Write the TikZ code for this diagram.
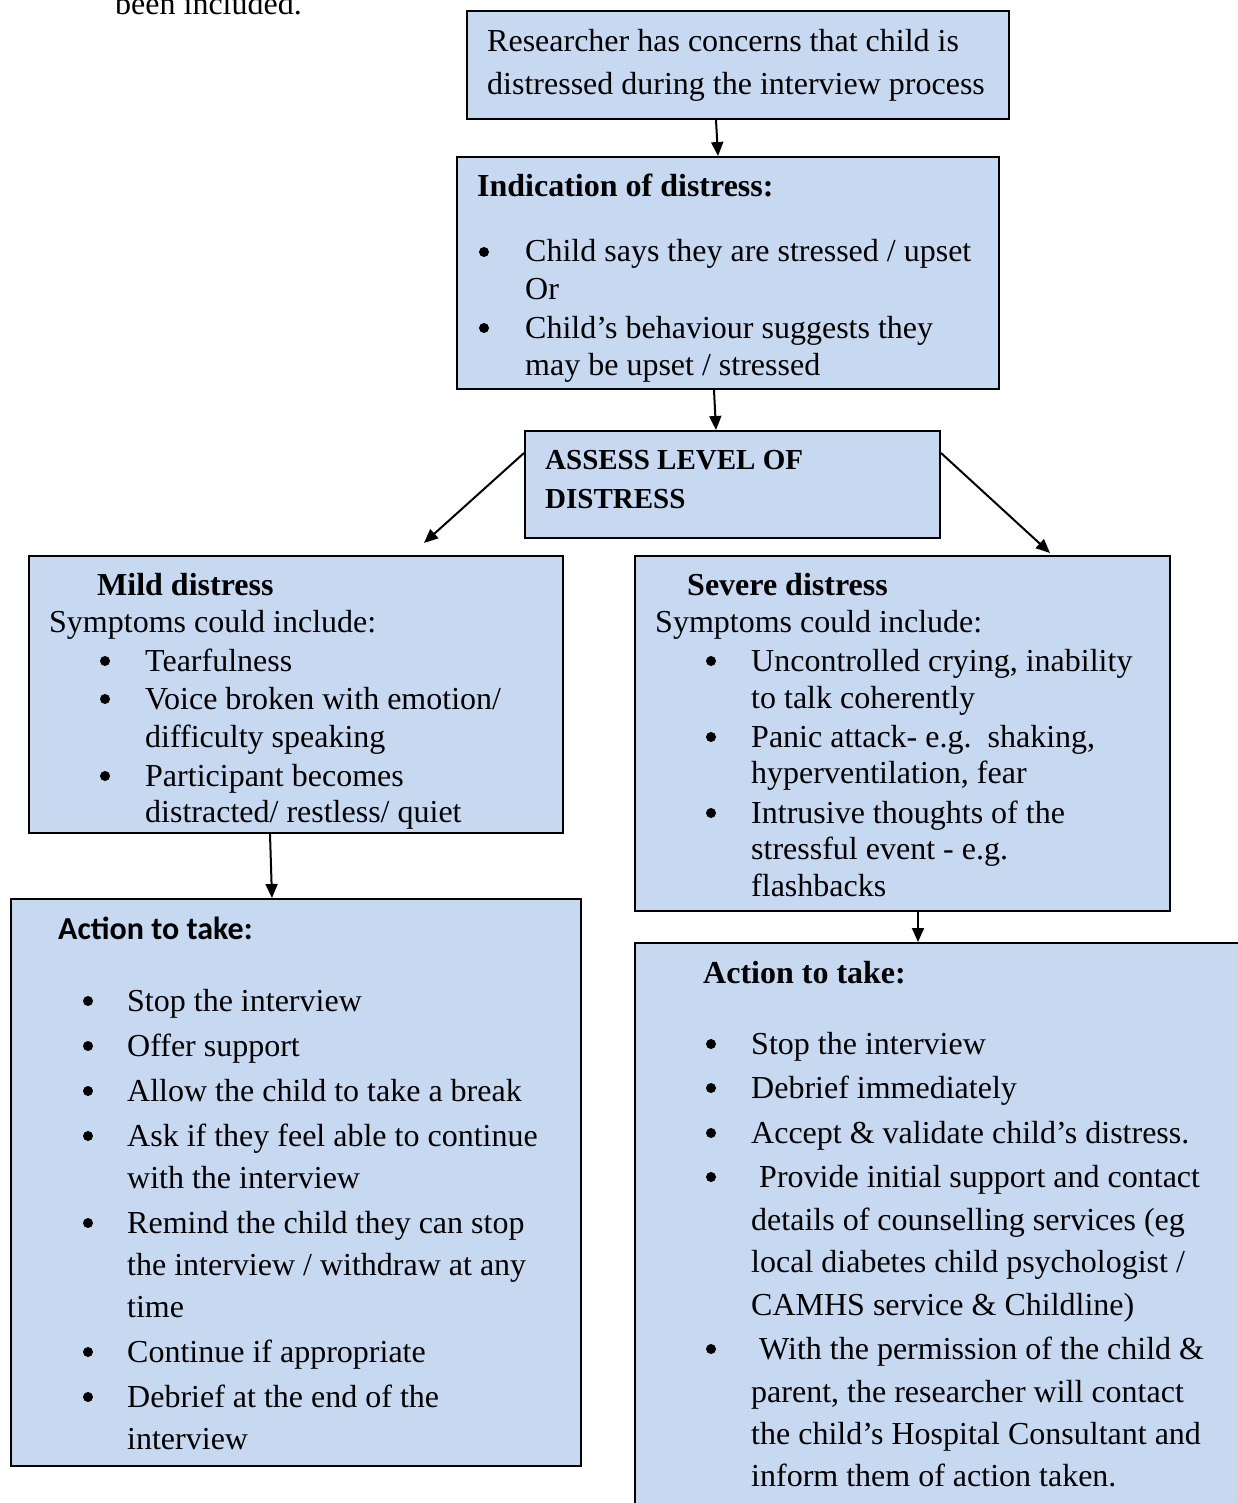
\documentclass[tikz,border=0pt]{standalone}
\usepackage{fontspec}
\setmainfont{Liberation Serif}
\newfontfamily\calfont{Carlito}
\usetikzlibrary{arrows.meta,calc}
\definecolor{boxblue}{RGB}{198,217,241}
\newcommand\Ln[4]{\node[txt] (#1) at (#2,#3) {#4};}
\newcommand\Bu[3]{\node[bul] (#1) at (#2,#3) {};}
\begin{document}
\begin{tikzpicture}[x=1pt,y=-1pt,
 box/.style={draw=black,line width=2pt,fill=boxblue,rectangle,inner sep=0pt,anchor=north west},
 txt/.style={anchor=base west,inner sep=0pt,font=\fontsize{32}{38}\selectfont},
 btxt/.style={txt,font=\fontsize{32}{38}\selectfont\bfseries},
 bul/.style={circle,fill=black,inner sep=0pt,minimum size=10pt},
 arr/.style={line width=2pt,-{Triangle[length=14pt,width=12pt]}}]
\useasboundingbox (0,0) rectangle (1238,1503);
\clip (0,0) rectangle (1238,1503);

\node[txt] (prev) at (115,15) {been included.};

% boxes
\node[box,minimum width=542pt,minimum height=108pt] (top) at (466,10) {};
\node[box,minimum width=542pt,minimum height=232pt] (ind) at (456,156) {};
\node[box,minimum width=415pt,minimum height=107pt] (ass) at (524,430) {};
\node[box,minimum width=534pt,minimum height=277pt] (mild) at (28,555) {};
\node[box,minimum width=535pt,minimum height=355pt] (sev) at (634,555) {};
\node[box,minimum width=570pt,minimum height=567pt] (actl) at (10,898) {};
\node[box,minimum width=604pt,minimum height=575pt] (actr) at (634,942) {};

% arrows
\draw[arr] ($(top.south west)+(250,0)$) -- ($(ind.north west)+(262,0)$);
\draw[arr] ($(ind.south west)+(258,0)$) -- ($(ass.north west)+(192,0)$);
\draw[arr] ($(ass.north west)+(0,23)$) -- ($(mild.north west)+(396,-12)$);
\draw[arr] ($(ass.north east)+(0,23)$) -- ($(sev.north west)+(416,-2)$);
\draw[arr] ($(mild.south west)+(242,0)$) -- ($(actl.north west)+(262,0)$);
\draw[arr] ($(sev.south west)+(284,0)$) -- ($(actr.north west)+(284,0)$);

% top box
\Ln{t1}{487}{52}{Researcher has concerns that child is}
\Ln{t2}{487}{95}{distressed during the interview process}

% indication
\begin{scope}
\clip (ind.north west) rectangle (ind.south east);
\node[btxt] (i0) at (477,197) {Indication of distress:};
\Bu{ib1}{484}{252}\Bu{ib2}{484}{328}
\Ln{i1}{525}{262}{Child says they are stressed / upset}
\Ln{i2}{525}{299}{Or}
\Ln{i3}{525}{338}{Child’s behaviour suggests they}
\Ln{i4}{525}{375}{may be upset / stressed}
\end{scope}

% assess
\node[btxt,font=\fontsize{29}{36}\selectfont\bfseries] (a1) at (545,469) {ASSESS LEVEL OF};
\node[btxt,font=\fontsize{29}{36}\selectfont\bfseries] (a2) at (545,508) {DISTRESS};

% mild
\begin{scope}
\clip (mild.north west) rectangle (mild.south east);
\node[btxt] (m0) at (97,595) {Mild distress};
\Ln{m1}{49}{632}{Symptoms could include:}
\Bu{mb1}{105}{661}\Bu{mb2}{105}{699}\Bu{mb3}{105}{776}
\Ln{m2}{145}{671}{Tearfulness}
\Ln{m3}{145}{709}{Voice broken with emotion/}
\Ln{m4}{145}{747}{difficulty speaking}
\Ln{m5}{145}{786}{Participant becomes}
\Ln{m6}{145}{822}{distracted/ restless/ quiet}
\end{scope}

% severe
\node[btxt] (s0) at (687,595) {Severe distress};
\Ln{s1}{655}{632}{Symptoms could include:}
\Bu{sb1}{711}{661}\Bu{sb2}{711}{737}\Bu{sb3}{711}{813}
\Ln{s2}{751}{671}{Uncontrolled crying, inability}
\Ln{s3}{751}{708}{to talk coherently}
\Ln{s4}{751}{747}{Panic attack- e.g.\ \ shaking,}
\Ln{s5}{751}{783}{hyperventilation, fear}
\Ln{s6}{751}{823}{Intrusive thoughts of the}
\Ln{s7}{751}{859}{stressful event - e.g.}
\Ln{s8}{751}{896}{flashbacks}

% action left
\node[txt,font=\fontsize{32}{38}\calfont\bfseries] (l0) at (58,939) {Action to take:};
\Bu{lb1}{88}{1001}\Bu{lb2}{88}{1046}\Bu{lb3}{88}{1091}\Bu{lb4}{88}{1136}
\Bu{lb5}{88}{1223}\Bu{lb6}{88}{1352}\Bu{lb7}{88}{1397}
\Ln{l1}{127}{1011}{Stop the interview}
\Ln{l2}{127}{1056}{Offer support}
\Ln{l3}{127}{1101}{Allow the child to take a break}
\Ln{l4}{127}{1146}{Ask if they feel able to continue}
\Ln{l5}{127}{1188}{with the interview}
\Ln{l6}{127}{1233}{Remind the child they can stop}
\Ln{l7}{127}{1275}{the interview / withdraw at any}
\Ln{l8}{127}{1317}{time}
\Ln{l9}{127}{1362}{Continue if appropriate}
\Ln{l10}{127}{1407}{Debrief at the end of the}
\Ln{l11}{127}{1449}{interview}

% action right
\node[btxt] (r0) at (703,983) {Action to take:};
\Bu{rb1}{711}{1044}\Bu{rb2}{711}{1088}\Bu{rb3}{711}{1133}\Bu{rb4}{711}{1177}\Bu{rb5}{711}{1349}
\Ln{r1}{751}{1054}{Stop the interview}
\Ln{r2}{751}{1098}{Debrief immediately}
\Ln{r3}{751}{1143}{Accept \& validate child’s distress.}
\Ln{r4}{759}{1187}{Provide initial support and contact}
\Ln{r5}{751}{1230}{details of counselling services (eg}
\Ln{r6}{751}{1272}{local diabetes child psychologist /}
\Ln{r7}{751}{1315}{CAMHS service \& Childline)}
\Ln{r8}{759}{1359}{With the permission of the child \&}
\Ln{r9}{751}{1402}{parent, the researcher will contact}
\Ln{r10}{751}{1444}{the child’s Hospital Consultant and}
\Ln{r11}{751}{1486}{inform them of action taken.}
\end{tikzpicture}
\end{document}
